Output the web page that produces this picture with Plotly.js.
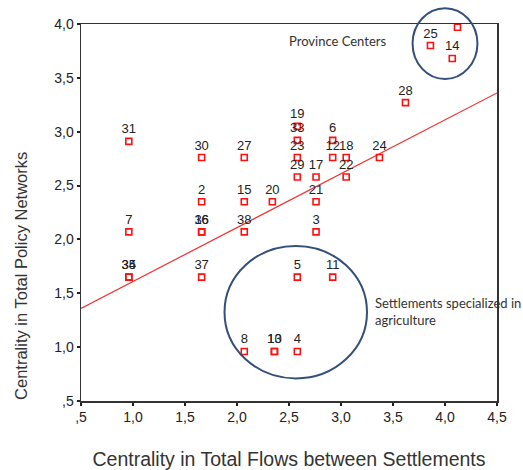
<!DOCTYPE html>
<html>
<head>
<meta charset="utf-8">
<script src="https://cdn.plot.ly/plotly-3.0.1.min.js"></script>
<style>
  html, body { margin: 0; padding: 0; background: #fff; }
  #chart { width: 523px; height: 470px; }
</style>
</head>
<body>
<div id="chart"></div>
<script>
// Settlement labels and their centrality scores
const settlementLabels = [
  "31", "30", "27", "19", "33", "23", "29", "17", "6", "12", "18", "22",
  "24", "28", "25", "14", "1", "2", "15", "20", "21", "7", "16", "36",
  "38", "3", "34", "35", "37", "5", "11", "8", "10", "13", "4"
];
// Centrality in total flows between settlements
const flowCentrality = [
  0.96, 1.66, 2.07, 2.58, 2.58, 2.58, 2.58, 2.76, 2.92, 2.92, 3.05, 3.05,
  3.37, 3.62, 3.86, 4.07, 4.12, 1.66, 2.07, 2.34, 2.76, 0.96, 1.66, 1.66,
  2.07, 2.76, 0.96, 0.96, 1.66, 2.58, 2.92, 2.07, 2.36, 2.36, 2.58
];
// Centrality in total policy networks
const policyCentrality = [
  2.91, 2.76, 2.76, 3.05, 2.92, 2.76, 2.58, 2.58, 2.92, 2.76, 2.76, 2.58,
  2.76, 3.27, 3.80, 3.68, 3.97, 2.35, 2.35, 2.35, 2.35, 2.07, 2.07, 2.07,
  2.07, 2.07, 1.65, 1.65, 1.65, 1.65, 1.65, 0.96, 0.96, 0.96, 0.96
];

// Linear fit line (policy = intercept + slope * flows)
const fitIntercept = 1.11;
const fitSlope = 0.50;
const fitX = [0.5, 4.5];
const fitY = fitX.map(v => fitIntercept + fitSlope * v);

// Axis ticks with comma decimal separators
const tickValues = [0.5, 1.0, 1.5, 2.0, 2.5, 3.0, 3.5, 4.0, 4.5];
const xTickText = [",5", "1,0", "1,5", "2,0", "2,5", "3,0", "3,5", "4,0", "4,5"];
const yTickValues = [0.5, 1.0, 1.5, 2.0, 2.5, 3.0, 3.5, 4.0];
const yTickText = [",5", "1,0", "1,5", "2,0", "2,5", "3,0", "3,5", "4,0"];

const axisFont = { family: "Liberation Sans, Arial, sans-serif", size: 14, color: "#222" };
const noteFont = { family: "Lato, Open Sans, sans-serif", size: 13, color: "#333" };
const ringColor = "#34507a";

const traces = [
  {
    type: "scatter",
    mode: "lines",
    x: fitX,
    y: fitY,
    line: { color: "#f03030", width: 1.2 },
    hoverinfo: "skip",
    showlegend: false
  },
  {
    type: "scatter",
    mode: "markers+text",
    x: flowCentrality,
    y: policyCentrality,
    text: settlementLabels,
    textposition: "top center",
    textfont: { family: "Liberation Sans, Arial, sans-serif", size: 13, color: "#222" },
    marker: {
      symbol: "square-open",
      size: 6,
      color: "#ff1010",
      line: { width: 1.6, color: "#ff1010" }
    },
    cliponaxis: true,
    showlegend: false
  }
];

const layout = {
  width: 523,
  height: 470,
  margin: { l: 81, r: 26, t: 24, b: 69 },
  paper_bgcolor: "#ffffff",
  plot_bgcolor: "#ffffff",
  showlegend: false,
  xaxis: {
    range: [0.5, 4.5],
    tickvals: tickValues,
    ticktext: xTickText,
    tickfont: axisFont,
    ticks: "outside",
    ticklen: 3,
    tickwidth: 2,
    tickcolor: "#222",
    showgrid: false,
    zeroline: false,
    showline: true,
    linecolor: "#333",
    linewidth: 1.5,
    mirror: true,
    title: {
      text: "Centrality in Total Flows between Settlements",
      font: { family: "Liberation Sans, Arial, sans-serif", size: 19.5, color: "#333" },
      standoff: 28
    }
  },
  yaxis: {
    range: [0.5, 4.0],
    tickvals: yTickValues,
    ticktext: yTickText,
    tickfont: axisFont,
    ticks: "outside",
    ticklen: 3,
    tickwidth: 2,
    tickcolor: "#222",
    showgrid: false,
    zeroline: false,
    showline: true,
    linecolor: "#333",
    linewidth: 1.5,
    mirror: true
  },
  shapes: [
    {
      type: "circle",
      xref: "paper", yref: "paper",
      x0: 0.797, x1: 0.953, y0: 0.854, y1: 1.042,
      line: { color: ringColor, width: 2 }
    },
    {
      type: "circle",
      xref: "x", yref: "y",
      x0: 1.88, x1: 3.25, y0: 0.71, y1: 1.94,
      line: { color: ringColor, width: 2 }
    }
  ],
  annotations: [
    {
      text: "Centrality in Total Policy Networks",
      xref: "paper", yref: "paper",
      x: -0.144, y: 0.332,
      xanchor: "center", yanchor: "middle",
      textangle: -90,
      showarrow: false,
      font: { family: "Liberation Sans, Arial, sans-serif", size: 16.5, color: "#333" }
    },
    {
      text: "Province Centers",
      xref: "x", yref: "y",
      x: 2.48, y: 3.845,
      xanchor: "left", yanchor: "middle",
      showarrow: false,
      font: noteFont
    },
    {
      text: "Settlements specialized in<br>agriculture",
      xref: "x", yref: "y",
      x: 3.31, y: 1.33,
      xanchor: "left", yanchor: "middle",
      align: "left",
      showarrow: false,
      font: noteFont
    }
  ]
};

Plotly.newPlot("chart", traces, layout, { displayModeBar: false, staticPlot: true });
</script>
</body>
</html>
